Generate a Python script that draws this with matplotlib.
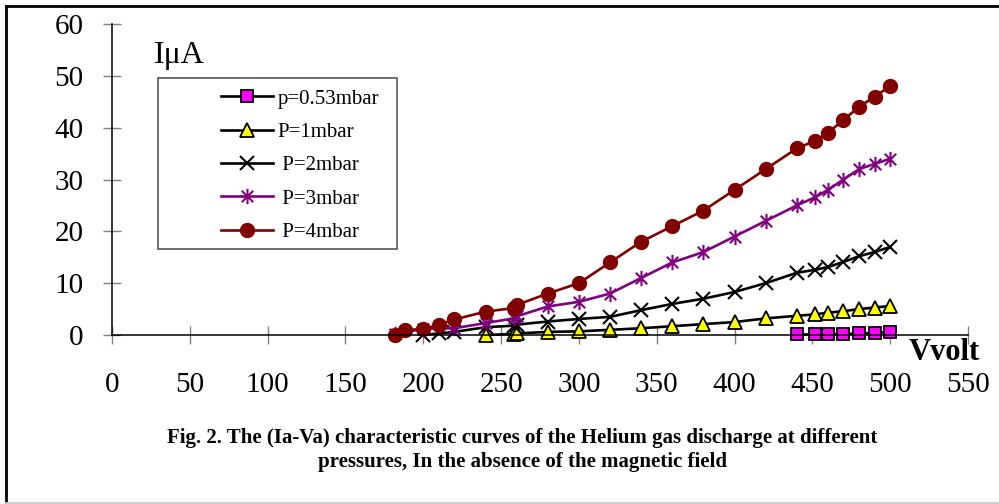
import numpy as np
import matplotlib
matplotlib.use('Agg')
import matplotlib.pyplot as plt
from matplotlib.path import Path
from matplotlib.patches import Rectangle
from matplotlib.lines import Line2D

plt.rcParams['font.family'] = ['Liberation Serif', 'DejaVu Serif']

# anode voltage (V) and discharge current (uA) for each helium pressure
v053 = [440, 452, 460, 470, 480, 490, 500]
i053 = [0.1, 0.1, 0.15, 0.2, 0.3, 0.4, 0.6]

v1 = [240, 258, 260, 280, 300, 320, 340, 360, 380, 400, 420, 440, 452, 460, 470, 480, 490, 500]
i1 = [0, 0.2, 0.3, 0.6, 0.7, 1.0, 1.3, 1.7, 2.1, 2.5, 3.2, 3.7, 4.0, 4.3, 4.6, 5.0, 5.3, 5.6]

v2 = [200, 210, 220, 240, 258, 260, 280, 300, 320, 340, 360, 380, 400, 420, 440, 452, 460, 470, 480, 490, 500]
i2 = [0, 0.3, 0.6, 1.5, 1.8, 2.0, 2.6, 3.1, 3.5, 4.8, 6, 7, 8.3, 10, 12, 12.6, 13.1, 14.1, 15.2, 16, 17]

v3 = [182, 200, 220, 240, 258, 260, 280, 300, 320, 340, 360, 380, 400, 420, 440, 452, 460, 470, 480, 490, 500]
i3 = [0.2, 1.2, 1.3, 2.3, 3.2, 3.6, 5.5, 6.4, 8, 11, 14, 16, 19, 22, 25, 26.6, 28, 30, 32, 33, 34]

v4 = [182, 188, 200, 210, 220, 240, 258, 260, 280, 300, 320, 340, 360, 380, 400, 420, 440, 452, 460, 470, 480, 490, 500]
i4 = [0, 1, 1.1, 2, 3, 4.5, 5.2, 5.8, 8, 10, 14, 18, 21, 24, 28, 32, 36, 37.5, 39, 41.5, 44, 46, 48]

labels = ['p=0.53mbar', 'P=1mbar', ' P=2mbar', ' P=3mbar', ' P=4mbar']
xticks = np.arange(0, 551, 50)
yticks = np.arange(0, 61, 10)

# asterisk: an x with a vertical bar through it
star = Path([(0, -1), (0, 1), (-0.75, -0.75), (0.75, 0.75), (-0.75, 0.75), (0.75, -0.75)],
            [Path.MOVETO, Path.LINETO, Path.MOVETO, Path.LINETO, Path.MOVETO, Path.LINETO])

W, H = 999, 504
fig = plt.figure(figsize=(W / 100, H / 100), dpi=100)
ax = fig.add_axes([112 / W, 1 - 335 / H, (968 - 112) / W, (335 - 24) / H])

lw = 1.9
ax.plot(v053, i053, color='black', lw=lw, marker='s', ms=9, mfc='#FF00FF', mec='black', mew=1.3,
        label=labels[0], clip_on=False)
ax.plot(v1, i1, color='black', lw=lw, marker='^', ms=10, mfc='#FFFF00', mec='black', mew=1.3,
        label=labels[1], clip_on=False)
ax.plot(v2, i2, color='black', lw=lw, marker='x', ms=10, mew=1.5,
        label=labels[2], clip_on=False)
ax.plot(v3, i3, color='#800080', lw=lw, marker=star, ms=11, mew=1.5,
        label=labels[3], clip_on=False)
ax.plot(v4, i4, color='#800000', lw=lw, marker='o', ms=10, mfc='#800000', mec='#800000',
        label=labels[4], clip_on=False)

ax.set_xlim(0, 550)
ax.set_ylim(0, 60)
ax.set_xticks(xticks)
ax.set_yticks(yticks)
for s in ['top', 'right']:
    ax.spines[s].set_visible(False)
for s in ['left', 'bottom']:
    ax.spines[s].set_linewidth(1.1)
    ax.spines[s].set_color('black')
ax.tick_params(axis='both', direction='inout', length=13, width=1, color='#808080', labelsize=21)
ax.tick_params(axis='x', pad=20)
ax.tick_params(axis='y', pad=14)

# legend entries inside a hand-placed frame
leg = ax.legend(loc='upper left', bbox_to_anchor=(221 / W, 1 - 89 / H), bbox_transform=fig.transFigure,
                frameon=False, fontsize=15, borderpad=0, borderaxespad=0, handlelength=2.5,
                handletextpad=0.2, labelspacing=0.66, numpoints=1)
fig.patches.append(Rectangle((158 / W, 1 - 249 / H), (397 - 158) / W, (249 - 78) / H,
                             transform=fig.transFigure, fill=False, ec='#555555', lw=1.2))

fig.text(179 / W, 1 - 55 / H, 'I\u03bcA', fontsize=23, ha='center', va='center')
fig.text(944 / W, 1 - 353 / H, 'Vvolt', fontsize=22, fontweight='bold', ha='center', va='center')

fig.text(522 / W, 1 - 438 / H,
         'Fig. 2. The (Ia-Va) characteristic curves of the Helium gas discharge at different',
         fontsize=15, fontweight='bold', ha='center', va='center')
fig.text(522 / W, 1 - 462 / H, 'pressures, In the absence of the magnetic field',
         fontsize=15, fontweight='bold', ha='center', va='center')

# page frame around the figure
frame = fig.transFigure
fig.lines.append(Line2D([6 / W, 6 / W], [0, 1 - 6 / H], transform=frame, color='black', lw=2))
fig.lines.append(Line2D([6 / W, 1], [1 - 6 / H, 1 - 6 / H], transform=frame, color='black', lw=2))
fig.lines.append(Line2D([6 / W, 1], [1.5 / H, 1.5 / H], transform=frame, color='#cccccc', lw=2))

fig.savefig('out.png', dpi=100)
